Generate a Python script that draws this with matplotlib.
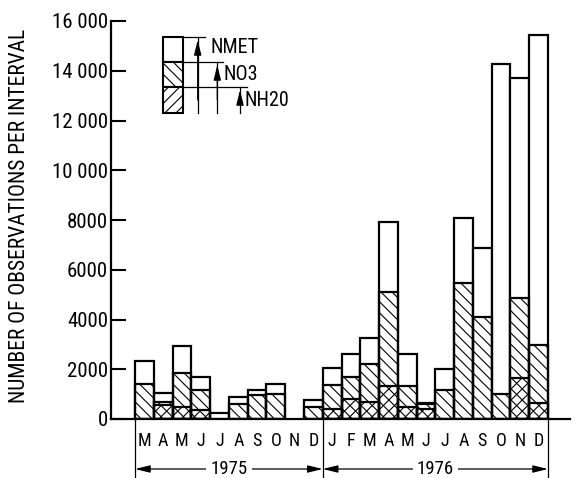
import matplotlib
matplotlib.use('Agg')
import matplotlib.pyplot as plt
from matplotlib import font_manager
from matplotlib.patches import Rectangle, FancyArrowPatch
from matplotlib.lines import Line2D
import matplotlib.transforms as mtransforms

# ---------------- data ----------------
months_1975 = ["M", "A", "M", "J", "J", "A", "S", "O", "N", "D"]
months_1976 = ["J", "F", "M", "A", "M", "J", "J", "A", "S", "O", "N", "D"]
years = ["1975", "1976"]

nmet_1975 = [2330, 1050, 2930, 1700, 250, 870, 1160, 1420, 0, 750]
no3_1975 = [1390, 700, 1840, 1160, 0, 620, 950, 1020, 0, 480]
nh2o_1975 = [0, 580, 500, 380, 0, 0, 0, 0, 0, 0]

nmet_1976 = [2070, 2600, 3250, 7900, 2620, 640, 2020, 8100, 6870, 14270, 13720, 15450]
no3_1976 = [1380, 1700, 2200, 5120, 1340, 600, 1170, 5460, 4120, 1000, 4880, 2980]
nh2o_1976 = [420, 800, 680, 1310, 500, 420, 0, 0, 0, 0, 1640, 640]

ytick_values = [0, 2000, 4000, 6000, 8000, 10000, 12000, 14000, 16000]
ytick_labels = ["0", "2000", "4000", "6000", "8000", "10 000", "12 000", "14 000", "16 000"]
legend_labels = ["NMET", "NO3", "NH20"]
ylabel = "NUMBER OF OBSERVATIONS PER INTERVAL"

# ---------------- fonts ----------------
entries = font_manager.fontManager.ttflist
names = {f.name for f in entries}
STRETCH = 'normal'
if "Roboto Condensed" in names:
    FAM = ["Roboto Condensed", "DejaVu Sans"]
    sz = dict(tick=15, month=13, year=13.5, ylab=15.5, leg=14.5)
elif "Liberation Sans Narrow" in names:
    FAM = ["Liberation Sans Narrow", "DejaVu Sans"]
    sz = dict(tick=15, month=13, year=13.5, ylab=15, leg=14)
else:
    FAM = ["Liberation Sans", "DejaVu Sans"]
    sz = dict(tick=13.5, month=11.5, year=12, ylab=12.9, leg=11.5)
plt.rcParams['font.family'] = FAM
plt.rcParams['hatch.linewidth'] = 0.8

W, H = 584, 478
fig = plt.figure(figsize=(W / 100, H / 100), dpi=100)

def fp(x, y):
    return (x / W, 1 - y / H)

ax_left, ax_right, ax_bottom, ax_top = 111, 570, 419, 21
ax = fig.add_axes([ax_left / W, 1 - ax_bottom / H, (ax_right - ax_left) / W, (ax_bottom - ax_top) / H])

months = months_1975 + months_1976
nmet = nmet_1975 + nmet_1976
no3 = no3_1975 + no3_1976
nh2o = nh2o_1975 + nh2o_1976
x = list(range(len(months)))

LW = 1.6
for i in x:
    if nmet[i] > 0:
        ax.bar(i, nmet[i], width=1, align='edge', facecolor='white', edgecolor='black', linewidth=LW, zorder=2)
    if no3[i] > 0:
        ax.bar(i, no3[i], width=1, align='edge', facecolor='none', edgecolor='black', linewidth=LW,
               hatch='\\\\\\', zorder=3)
    if nh2o[i] > 0:
        ax.bar(i, nh2o[i], width=1, align='edge', facecolor='none', edgecolor='black', linewidth=LW,
               hatch='///', zorder=4)

unit = (548 - 135) / len(months)
ax.set_xlim(-(135 - ax_left) / unit, len(months) + (ax_right - 548) / unit)
ax.set_ylim(0, 16000)

for s in ['top', 'right']:
    ax.spines[s].set_visible(False)
ax.spines['left'].set_linewidth(1.6)
ax.spines['bottom'].set_linewidth(1.6)

ax.set_yticks(ytick_values)
ax.set_yticklabels(ytick_labels, fontsize=sz['tick'])
ax.tick_params(axis='y', direction='in', length=11, width=1.5, pad=2)

ax.set_xticks([i + 0.5 for i in x])
ax.set_xticklabels(months, fontsize=sz['month'])
ax.tick_params(axis='x', length=0, pad=9)

# year brackets below axis
trans = mtransforms.blended_transform_factory(ax.transData, ax.transAxes)
n75 = len(months_1975)
n76 = len(months_1976)
bounds = [0, n75, n75 + n76]
y_bot = (ax_bottom - 478) / (ax_bottom - ax_top)
y_arr = (ax_bottom - 469) / (ax_bottom - ax_top)
for b in bounds:
    ax.add_line(Line2D([b, b], [0, y_bot], transform=trans, color='black', lw=0.9, clip_on=False))
for j, yr in enumerate(years):
    a, b = bounds[j], bounds[j + 1]
    ax.annotate('', xy=(a, y_arr), xytext=(b, y_arr), xycoords=trans, textcoords=trans,
                arrowprops=dict(arrowstyle='<|-|>,head_length=0.9,head_width=0.22', color='black',
                                lw=0.9, shrinkA=0, shrinkB=0, mutation_scale=10),
                annotation_clip=False)
    ax.text((a + b) / 2, y_arr, yr, transform=trans, ha='center', va='center', fontsize=sz['year'],
            bbox=dict(facecolor='white', edgecolor='none', pad=3), clip_on=False, zorder=5)

# y label
fig.text(20 / W, 1 - 216 / H, ylabel, rotation=90, ha='center', va='center', fontsize=sz['ylab'])

# ---------------- legend (manual) ----------------
bx0, bx1 = 163, 183
cells = [(37, 61.7, None), (61.7, 86.7, '\\\\\\'), (86.7, 113, '///')]
for (y0, y1, h) in cells:
    r = Rectangle(fp(bx0, y1), (bx1 - bx0) / W, (y1 - y0) / H, transform=fig.transFigure,
                  facecolor='white', edgecolor='black', linewidth=1.5, hatch=h)
    fig.add_artist(r)

line_ends = [205, 223, 247]
arrow_x = [197.7, 217.3, 240]
arrow_tips = [40, 65, 90]
text_pos = [(210, 47.5), (223, 75), (245, 100)]
for j, lab in enumerate(legend_labels):
    y0 = cells[j][0]
    fig.add_artist(Line2D([bx1 / W, line_ends[j] / W], [1 - y0 / H, 1 - y0 / H],
                          transform=fig.transFigure, color='black', lw=0.9))
    fig.add_artist(Line2D([arrow_x[j] / W, arrow_x[j] / W], [1 - 113 / H, 1 - y0 / H],
                          transform=fig.transFigure, color='black', lw=0.9))
    fig.add_artist(FancyArrowPatch(
        fp(arrow_x[j], 100), fp(arrow_x[j], arrow_tips[j]), transform=fig.transFigure,
        arrowstyle='-|>,head_length=0.9,head_width=0.22', mutation_scale=10,
        color='black', lw=0.9, shrinkA=0, shrinkB=0))
    fig.text(text_pos[j][0] / W, 1 - text_pos[j][1] / H, lab, ha='left', va='center', fontsize=sz['leg'])

fig.savefig('out.png', dpi=100)
